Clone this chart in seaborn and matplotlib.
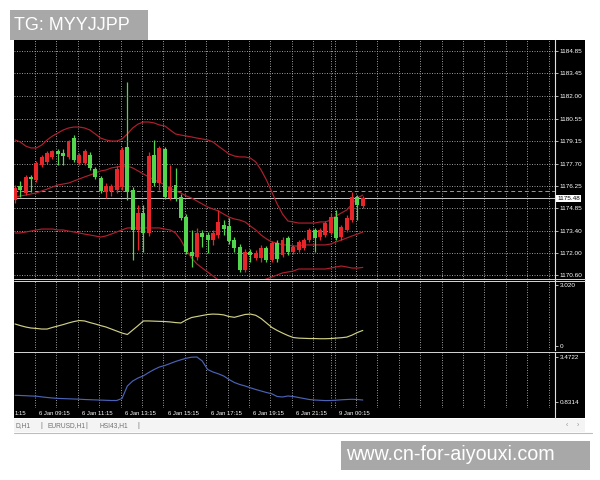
import numpy as np
import matplotlib
matplotlib.use("Agg")
import matplotlib.pyplot as plt
import seaborn as sns
from matplotlib.patches import Rectangle
from matplotlib.lines import Line2D
from matplotlib.transforms import blended_transform_factory

sns.set_style("dark")
plt.rcParams['font.family'] = ['Liberation Sans', 'DejaVu Sans']

RED, GREEN, BAND = '#e8262a', '#52d64e', '#b01f2e'
YELLOW, BLUE, GRID = '#cfcf86', '#4a63b5', '#b0b0b0'

# ---- price bars (M15) ----
opens = [1175.38, 1176.27, 1175.83, 1176.84, 1176.65, 1177.61, 1177.80, 1178.12, 1178.50, 1178.37,
         1178.12, 1179.32, 1177.74, 1177.74, 1178.24, 1177.35, 1176.78, 1175.89, 1175.95, 1176.02,
         1176.21, 1178.75, 1176.02, 1173.48, 1174.56, 1173.29, 1178.24, 1176.46, 1178.62, 1175.51,
         1176.34, 1175.57, 1174.30, 1172.08, 1171.76, 1173.29, 1173.16, 1172.84, 1173.16, 1173.80,
         1173.73, 1172.84, 1172.40, 1170.94, 1172.08, 1171.70, 1171.70, 1172.34, 1171.57, 1172.65,
         1171.89, 1172.97, 1172.08, 1172.21, 1172.34, 1172.84, 1173.48, 1173.03, 1173.16, 1173.29,
         1174.30, 1173.03, 1173.48, 1174.11, 1175.57, 1175.00]
highs = [1176.34, 1176.59, 1176.97, 1176.97, 1177.86, 1178.24, 1178.50, 1178.56, 1178.62, 1178.62,
         1179.20, 1179.51, 1178.37, 1178.62, 1178.44, 1177.48, 1176.91, 1176.46, 1176.40, 1177.54,
         1178.75, 1182.88, 1176.21, 1175.07, 1175.07, 1178.44, 1179.20, 1178.82, 1178.75, 1177.61,
         1177.42, 1175.76, 1174.49, 1173.48, 1173.61, 1173.48, 1173.35, 1173.48, 1174.75, 1174.11,
         1174.24, 1173.03, 1172.59, 1172.27, 1172.27, 1172.21, 1172.53, 1172.46, 1172.78, 1172.84,
         1173.03, 1173.10, 1172.53, 1172.84, 1172.97, 1173.61, 1173.61, 1173.61, 1174.05, 1174.56,
         1174.75, 1173.80, 1174.43, 1175.89, 1175.70, 1175.64]
lows = [1175.19, 1175.58, 1175.70, 1175.89, 1176.53, 1177.48, 1177.67, 1177.99, 1177.61, 1177.61,
        1177.99, 1177.80, 1177.61, 1177.61, 1177.29, 1176.72, 1175.83, 1175.51, 1175.64, 1175.83,
        1176.02, 1175.38, 1171.57, 1172.21, 1172.08, 1173.10, 1176.27, 1176.02, 1175.45, 1175.38,
        1175.32, 1174.11, 1171.95, 1171.13, 1171.57, 1172.40, 1172.02, 1172.53, 1172.97, 1173.16,
        1172.59, 1172.08, 1170.81, 1170.81, 1171.45, 1171.57, 1171.45, 1171.45, 1171.45, 1171.45,
        1171.76, 1171.89, 1171.95, 1172.08, 1172.21, 1172.72, 1172.08, 1172.84, 1173.03, 1173.16,
        1172.84, 1172.84, 1173.35, 1173.99, 1174.11, 1174.87]
closes = [1176.15, 1176.02, 1176.84, 1176.72, 1177.74, 1178.12, 1178.37, 1178.50, 1178.31, 1178.18,
          1179.13, 1177.93, 1178.24, 1178.50, 1177.42, 1176.84, 1175.95, 1176.27, 1176.27, 1177.35,
          1178.56, 1175.89, 1173.48, 1174.56, 1173.29, 1178.18, 1176.46, 1178.69, 1175.57, 1176.21,
          1175.51, 1174.24, 1172.08, 1171.83, 1173.29, 1173.03, 1172.84, 1173.29, 1173.99, 1173.54,
          1172.78, 1172.34, 1170.94, 1172.08, 1171.89, 1172.02, 1172.34, 1171.57, 1172.65, 1171.64,
          1172.84, 1172.08, 1172.40, 1172.72, 1172.84, 1173.48, 1172.97, 1173.48, 1173.92, 1174.30,
          1172.97, 1173.67, 1174.24, 1175.57, 1175.07, 1175.48]

# ---- Bollinger bands ----
bb_upper = [1179.20, 1179.07, 1178.81, 1178.69, 1178.69, 1178.88, 1179.20, 1179.45, 1179.64, 1179.83,
            1179.96, 1180.02, 1180.02, 1179.96, 1179.83, 1179.58, 1179.32, 1179.20, 1179.13, 1179.13,
            1179.26, 1179.58, 1179.96, 1180.21, 1180.34, 1180.34, 1180.28, 1180.15, 1180.09, 1179.83,
            1179.58, 1179.51, 1179.45, 1179.39, 1179.32, 1179.26, 1179.20, 1179.07, 1178.81, 1178.56,
            1178.31, 1178.18, 1178.12, 1178.12, 1178.05, 1177.80, 1177.29, 1176.65, 1175.89, 1175.13,
            1174.49, 1174.05, 1173.99, 1173.92, 1173.92, 1173.92, 1173.92, 1173.99, 1173.99, 1174.11,
            1174.37, 1174.56, 1174.75, 1175.13, 1175.51, 1175.70]
bb_middle = [1175.57, 1175.64, 1175.70, 1175.77, 1175.83, 1175.96, 1176.08, 1176.21, 1176.34, 1176.40,
             1176.46, 1176.59, 1176.72, 1176.85, 1176.97, 1177.10, 1177.23, 1177.29, 1177.42, 1177.48,
             1177.54, 1177.54, 1177.42, 1177.23, 1177.04, 1176.85, 1176.65, 1176.53, 1176.34, 1176.15,
             1175.96, 1175.83, 1175.64, 1175.51, 1175.32, 1175.13, 1174.94, 1174.81, 1174.69, 1174.49,
             1174.30, 1174.18, 1174.11, 1173.99, 1173.73, 1173.48, 1173.16, 1172.91, 1172.72, 1172.65,
             1172.53, 1172.53, 1172.46, 1172.46, 1172.53, 1172.53, 1172.53, 1172.53, 1172.53, 1172.59,
             1172.72, 1172.84, 1172.97, 1173.10, 1173.22, 1173.35]
bb_lower = [1173.29, 1173.29, 1173.35, 1173.41, 1173.48, 1173.54, 1173.54, 1173.54, 1173.48, 1173.48,
            1173.41, 1173.35, 1173.29, 1173.22, 1173.16, 1173.10, 1173.03, 1173.10, 1173.22, 1173.35,
            1173.48, 1173.61, 1173.61, 1173.61, 1173.61, 1173.61, 1173.61, 1173.61, 1173.54, 1173.48,
            1173.29, 1172.84, 1172.21, 1171.70, 1171.32, 1171.06, 1170.81, 1170.56, 1170.30, 1170.11,
            1169.98, 1169.92, 1169.92, 1169.98, 1170.05, 1170.11, 1170.24, 1170.37, 1170.49, 1170.62,
            1170.75, 1170.81, 1170.87, 1171.00, 1171.00, 1171.00, 1171.00, 1171.00, 1171.00, 1171.06,
            1171.13, 1171.19, 1171.13, 1171.06, 1171.06, 1171.10]

# ---- sub-window indicators ----
ind_yellow = [1.09, 1.01, 0.94, 0.89, 0.87, 0.84, 0.84, 0.92, 0.99, 1.06,
              1.14, 1.21, 1.26, 1.24, 1.16, 1.09, 1.01, 0.94, 0.84, 0.74,
              0.64, 0.57, 0.79, 1.01, 1.24, 1.24, 1.23, 1.22, 1.21, 1.19,
              1.16, 1.14, 1.29, 1.41, 1.46, 1.51, 1.56, 1.58, 1.57, 1.54,
              1.46, 1.42, 1.49, 1.56, 1.58, 1.52, 1.36, 1.14, 0.92, 0.77,
              0.64, 0.52, 0.42, 0.39, 0.38, 0.37, 0.37, 0.36, 0.36, 0.37,
              0.39, 0.41, 0.44, 0.54, 0.67, 0.77]
ind_blue = [1.225, 1.213, 1.201, 1.184, 1.172, 1.131, 1.096, 1.066, 1.043, 1.031,
            1.019, 1.007, 0.996, 0.978, 0.966, 0.954, 0.943, 0.931, 0.919, 0.919,
            1.037, 1.771, 2.064, 2.240, 2.369, 2.563, 2.739, 2.886, 2.974, 3.091,
            3.209, 3.308, 3.400, 3.460, 3.472, 3.238, 2.739, 2.592, 2.487, 2.358,
            2.152, 1.976, 1.859, 1.771, 1.665, 1.565, 1.477, 1.389, 1.313, 1.154,
            1.125, 1.184, 1.154, 1.096, 1.037, 0.978, 0.949, 0.931, 0.914, 0.919,
            0.937, 0.960, 0.978, 0.990, 0.978, 0.949]

price_ticks = [1184.85, 1183.45, 1182.00, 1180.55, 1179.15, 1177.70, 1176.25,
               1174.85, 1173.40, 1172.00, 1170.60]
bid_price = 1175.48
level_price = 1175.95
yellow_ticks = [3.020, 0]
yellow_labels = ['3.020', '0']
blue_ticks = [3.4722, 0.8314]
blue_labels = ['3.4722', '0.8314']
# first label is only partly visible at the left edge of the window
time_labels = ['1:15', '6 Jan 09:15', '6 Jan 11:15', '6 Jan 13:15', '6 Jan 15:15',
               '6 Jan 17:15', '6 Jan 19:15', '6 Jan 21:15', '9 Jan 00:15']
time_bars = [-0.1, 4, 12, 20, 28, 36, 44, 52, 60]
tabs = ['D,H1', '|', 'EURUSD,H1', '|', 'HSI43,H1', '|']
tab_x = [15, 40, 47, 85, 100, 137]

bars = np.arange(len(opens))
XLIM = (-0.19, 100.93)

# ============================================================
# figure skeleton (pixel layout of the terminal window)
# ============================================================
fig = plt.figure(figsize=(6, 4.8), dpi=100, facecolor='white')

def fx(px):
    return px / 600

def fy(py):
    return 1 - py / 480

def box(x0, y0, x1, y1):
    return [fx(x0), fy(y1), fx(x1) - fx(x0), fy(y0) - fy(y1)]

fig.add_artist(Rectangle((fx(14), fy(418)), fx(585) - fx(14), fy(40) - fy(418),
                         transform=fig.transFigure, facecolor='black', edgecolor='none', zorder=-5))

ax1 = fig.add_axes(box(14, 40, 555, 279))
ax2 = fig.add_axes(box(14, 280, 555, 350))
ax3 = fig.add_axes(box(14, 352, 555, 408))
ax4 = fig.add_axes(box(14, 408, 555, 418))

for ax in (ax1, ax2, ax3, ax4):
    ax.set_facecolor('black')
    ax.set_xlim(*XLIM)
    for s in ('top', 'left', 'bottom'):
        ax.spines[s].set_visible(False)
    ax.spines['right'].set_visible(True)
    ax.spines['right'].set_color('#e0e0e0')
    ax.spines['right'].set_linewidth(0.8)
    ax.yaxis.tick_right()
    ax.tick_params(axis='x', bottom=False, labelbottom=False)
    ax.tick_params(axis='y', colors='white', labelsize=4.6, length=2, width=0.5, pad=1.5)
    ax.grid(False)

grid_bars = np.arange(3.75, XLIM[1], 4)
for ax in (ax1, ax2, ax3):
    for gx in grid_bars:
        ax.axvline(gx, color=GRID, lw=0.6, ls=(0, (1.2, 1.8)), zorder=1)
    ax.axvline(59.1, color=GRID, lw=0.6, ls=(0, (1.2, 1.8)), zorder=1)

# ============================================================
# main window: candles + Bollinger bands
# ============================================================
ax1.set_ylim(1170.365, 1185.55)
ax1.set_yticks(price_ticks)
ax1.set_yticklabels([f"{t:.2f}" for t in price_ticks])
for t in price_ticks:
    ax1.axhline(t, color=GRID, lw=0.6, ls=(0, (1.2, 1.8)), zorder=1)

ax1.axhline(level_price, color='#9a9a9a', lw=0.7, ls=(0, (4, 3)), zorder=1.5)
ax1.axhline(bid_price, color='#c8c8c8', lw=0.7, zorder=1.5)

for band in (bb_upper, bb_middle, bb_lower):
    sns.lineplot(x=bars, y=band, ax=ax1, color=BAND, linewidth=0.85, legend=False, zorder=2)

o, h, l, c = map(np.array, (opens, highs, lows, closes))
cols = np.where(c >= o, RED, GREEN)
ax1.vlines(bars, l, h, colors=cols, lw=0.9, zorder=3)
ax1.bar(bars, np.maximum(np.abs(c - o), 0.06), bottom=np.minimum(o, c), width=0.74,
        color=cols, linewidth=0, zorder=4)
ax1.set_xlabel('')
ax1.set_ylabel('')

trans = blended_transform_factory(ax1.transAxes, ax1.transData)
ax1.text(1.004, bid_price, f"{bid_price:.2f}", transform=trans, fontsize=4.6, color='black',
         va='center', ha='left', zorder=6,
         bbox=dict(boxstyle='square,pad=0.2', facecolor='white', edgecolor='none'))

# ============================================================
# indicator windows
# ============================================================
sns.lineplot(x=bars, y=ind_yellow, ax=ax2, color=YELLOW, linewidth=0.85, legend=False, zorder=2)
ax2.set_ylim(-0.198, 3.267)
ax2.set_yticks(yellow_ticks)
ax2.set_yticklabels(yellow_labels)
ax2.set_ylabel('')

sns.lineplot(x=bars, y=ind_blue, ax=ax3, color=BLUE, linewidth=0.85, legend=False, zorder=2)
ax3.set_ylim(0.479, 3.766)
ax3.set_yticks(blue_ticks)
ax3.set_yticklabels(blue_labels)
ax3.set_ylabel('')

# time scale strip
ax4.set_ylim(0, 1)
ax4.set_yticks([])
for b, lab in zip(time_bars, time_labels):
    ax4.text(b + 0.55 if b > 0 else b, 0.45, lab, color='white', fontsize=4.2,
             ha='left', va='center')

# window separators
for py in (278.5, 280.5, 351.5):
    fig.add_artist(Line2D([fx(14), fx(585)], [fy(py), fy(py)], color='#d8d8d8', lw=0.7,
                          transform=fig.transFigure))

# ============================================================
# tab bar + watermarks
# ============================================================
fig.add_artist(Rectangle((fx(14), fy(432)), fx(585) - fx(14), fy(419) - fy(432),
                         transform=fig.transFigure, facecolor='#f4f4f4', edgecolor='none'))
fig.add_artist(Line2D([fx(14), fx(592)], [fy(432.5), fy(432.5)], color='#bdbdbd', lw=0.8,
                      transform=fig.transFigure))
for tx, t in zip(tab_x, tabs):
    fig.text(fx(tx), fy(425.5), t, fontsize=4.8, color='#707070', va='center', ha='left')
fig.text(fx(566), fy(425.5), '\u2039', fontsize=5, color='#909090', va='center')
fig.text(fx(577), fy(425.5), '\u203a', fontsize=5, color='#909090', va='center')

fig.add_artist(Rectangle((fx(10), fy(40)), fx(148) - fx(10), fy(10) - fy(40),
                         transform=fig.transFigure, facecolor='#a8a8a8', edgecolor='none', zorder=5))
fig.text(fx(14), fy(25.5), 'TG: MYYJJPP', fontsize=13, color='white', va='center', ha='left', zorder=6)

fig.add_artist(Rectangle((fx(341), fy(470)), fx(590) - fx(341), fy(441) - fy(470),
                         transform=fig.transFigure, facecolor='#a8a8a8', edgecolor='none', zorder=5))
fig.text(fx(346), fy(455), 'www.cn-for-aiyouxi.com', fontsize=14.2, color='white',
         va='center', ha='left', zorder=6)

fig.savefig('out.png', dpi=100, facecolor='white')
plt.close(fig)
